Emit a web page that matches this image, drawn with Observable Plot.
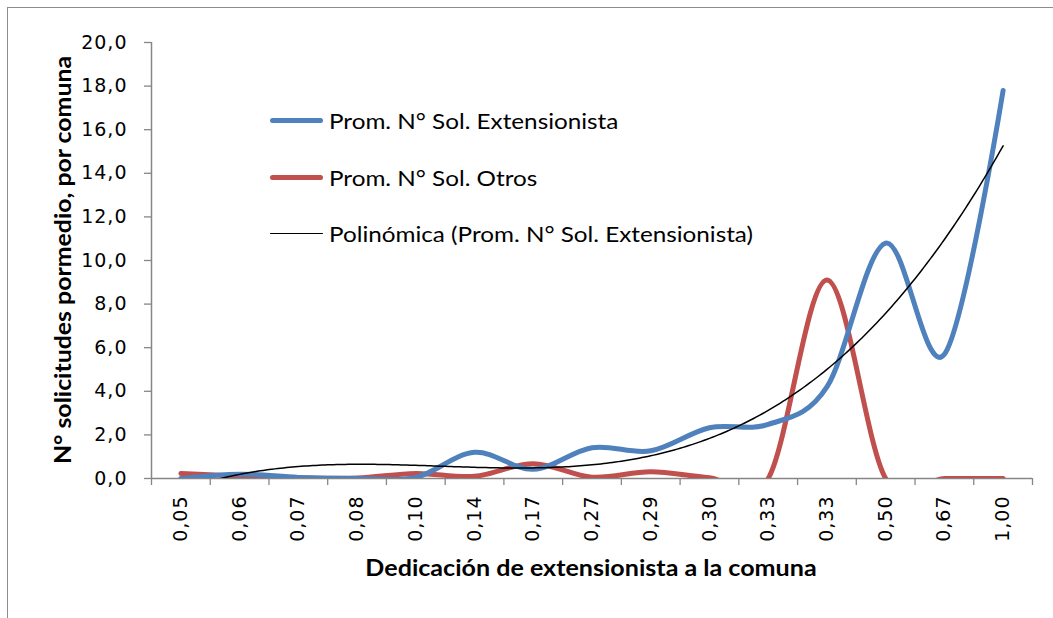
<!DOCTYPE html>
<html><head><meta charset="utf-8">
<script src="https://cdn.jsdelivr.net/npm/d3@7"></script>
<script src="https://cdn.jsdelivr.net/npm/@observablehq/plot@0.6"></script>
<style>
html,body{margin:0;padding:0;background:#fff;width:1053px;height:618px;overflow:hidden;}
#wrap{position:relative;width:1053px;height:618px;overflow:hidden;}
#frame{position:absolute;left:7px;top:7px;width:1100px;height:700px;border:1px solid #8c8c8c;box-sizing:border-box;}
#chart{position:absolute;left:0;top:0;}
#chart svg text{letter-spacing:1px;}
.ov{position:absolute;white-space:nowrap;color:#000;}
.xt{font-family:Lato,"Noto Sans",sans-serif;font-weight:bold;font-size:22px;left:591px;top:567px;transform:translate(-50%,-50%) scaleX(1.14);}
.yt{font-family:Lato,"Noto Sans",sans-serif;font-weight:bold;font-size:22px;left:62px;top:260px;transform:translate(-50%,-50%) rotate(-90deg) scaleX(1.13);}
.lg{font-family:Lato,"Noto Sans",sans-serif;font-size:21px;left:270px;}
.lg .sw{display:inline-block;width:53px;vertical-align:middle;margin-right:6px;border-radius:3px;}
.lg span.t{vertical-align:middle;display:inline-block;transform-origin:left center;transform:scaleX(1.155);}
</style></head>
<body><div id="wrap"><div id="frame"></div><div id="chart"></div>
<div class="ov xt">Dedicación de extensionista a la comuna</div>
<div class="ov yt">N° solicitudes pormedio, por comuna</div>
<div id="legend"></div>
</div>
<script>
const categories = ["0,05","0,06","0,07","0,08","0,10","0,14","0,17","0,27","0,29","0,30","0,33","0,33","0,50","0,67","1,00"];
const extensionista = [0.0,0.2,0.05,0.0,0.05,1.2,0.42,1.41,1.27,2.33,2.48,4.2,10.8,5.7,17.8];
const otros = [0.23,0.12,0.04,0.02,0.23,0.1,0.68,0.06,0.31,0.04,0.0,9.1,0.0,0.0,0.0];
const yTicks = [0,2,4,6,8,10,12,14,16,18,20];
const seriesNames = ["Prom. N° Sol. Extensionista","Prom. N° Sol. Otros","Polinómica (Prom. N° Sol. Extensionista)"];
const colors = ["#4F81BD","#C0504D","#000000"];
const trendDegree = 3;

function polyfit(xs, ys, deg){
  const n = deg+1, c = 7;
  const A = Array.from({length:n},()=>new Array(n+1).fill(0));
  xs.forEach((x,k)=>{const t=(x-c)/c;for(let i=0;i<n;i++){for(let j=0;j<n;j++)A[i][j]+=Math.pow(t,i+j);A[i][n]+=Math.pow(t,i)*ys[k];}});
  for(let i=0;i<n;i++){let p=i;for(let r=i+1;r<n;r++)if(Math.abs(A[r][i])>Math.abs(A[p][i]))p=r;[A[i],A[p]]=[A[p],A[i]];
    for(let r=0;r<n;r++){if(r===i)continue;const f=A[r][i]/A[i][i];for(let j=i;j<=n;j++)A[r][j]-=f*A[i][j];}}
  const coef=A.map((row,i)=>row[n]/row[i]);
  return x=>{const t=(x-c)/c;return coef.reduce((s,a,i)=>s+a*Math.pow(t,i),0);};
}
const idx = d3.range(categories.length);
const fit = polyfit(idx, extensionista, trendDegree);
const trendRows = d3.range(0, categories.length - 1 + 0.001, 0.05).map(x => ({x, y: fit(x)}));

const ext = idx.map(i=>({i,v:extensionista[i]}));
const otr = idx.map(i=>({i,v:otros[i]}));
const bounds = d3.range(categories.length+1).map(i=>i-0.5);

const chart = Plot.plot({
  width:1053,height:618,marginLeft:151,marginRight:21,marginTop:42,marginBottom:140,
  style:{background:"transparent",fontFamily:"DejaVu Sans"},
  x:{domain:[-0.5,categories.length-0.5],axis:null},
  y:{domain:[0,20],axis:null},
  marks:[
    Plot.axisY({ticks:yTicks,tickFormat:d=>d.toFixed(1).replace(".",","),tickSize:7,tickPadding:17,fontSize:19,stroke:"#868686",fill:"#000",strokeWidth:1.3,label:null}),
    Plot.axisX({ticks:bounds,tickFormat:()=>"",tickSize:7,stroke:"#868686",strokeWidth:1.3,label:null}),
    Plot.axisX({ticks:idx,tickFormat:i=>categories[i],tickSize:0,tickPadding:17,tickRotate:-90,fontSize:19,fill:"#000",label:null}),
    Plot.ruleX([-0.5],{stroke:"#868686",strokeWidth:1.5}),
    Plot.ruleY([0],{stroke:"#868686",strokeWidth:1.5}),
    Plot.line(otr,{x:"i",y:"v",stroke:colors[1],strokeWidth:5,curve:"cardinal",clip:true}),
    Plot.line(ext,{x:"i",y:"v",stroke:colors[0],strokeWidth:5,curve:"cardinal",clip:true}),
    Plot.line(trendRows,{x:"x",y:"y",stroke:colors[2],strokeWidth:1.5,clip:true})
  ]
});
document.getElementById("chart").appendChild(chart);

const legTop=[119,176,232];
const lg=document.getElementById("legend");
seriesNames.forEach((s,k)=>{
  const d=document.createElement("div");d.className="ov lg";d.style.top=legTop[k]+"px";d.style.transform="translateY(-50%)";
  d.innerHTML=`<span class="sw" style="height:${k<2?5:1.5}px;background:${colors[k]}"></span><span class="t">${s}</span>`;
  lg.appendChild(d);
});
</script></body></html>
